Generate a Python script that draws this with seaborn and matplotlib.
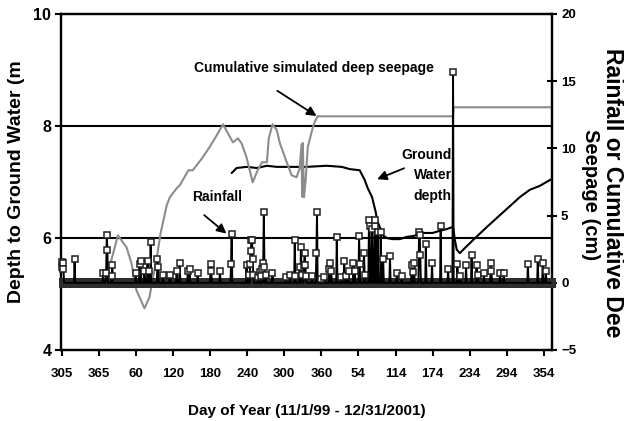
import matplotlib
matplotlib.use("Agg")
import matplotlib.pyplot as plt
import numpy as np
import seaborn as sns

# day index 0 = 11/1/1999, last = 12/31/2001
n_days = 792
tick_days = [0, 60, 120, 180, 240, 300, 360, 420, 480, 540, 600, 660, 720, 780]
tick_labels = ["305", "365", "60", "120", "180", "240", "300", "360",
               "54", "114", "174", "234", "294", "354"]

# groundwater depth (m), left axis
gw_day = [275, 283, 299, 316, 332, 348, 369, 385, 396, 429, 453, 466, 482, 490,
          495, 502, 508, 510, 515, 519, 526, 534, 547, 558, 571, 579, 592, 600,
          612, 623, 633, 636, 639, 644, 652, 665, 688, 714, 741, 757, 773, 792]
gw_depth = [7.16, 7.25, 7.27, 7.25, 7.29, 7.27, 7.27, 7.27, 7.27, 7.29, 7.27, 7.23,
            7.21, 7.04, 6.89, 6.73, 6.46, 6.32, 6.18, 6.05, 6.00, 5.98, 5.98, 6.02,
            6.04, 6.09, 6.09, 6.09, 6.13, 6.16, 6.20, 5.96, 5.79, 5.73, 5.82, 5.96,
            6.20, 6.46, 6.73, 6.86, 6.93, 7.05]

# cumulative simulated deep seepage (cm), right axis
seep_day = [70, 74, 91, 105, 113, 121, 134, 142, 147, 154, 160, 170, 175, 186,
            191, 205, 212, 227, 239, 248, 261, 269, 277, 285, 291, 299, 309, 317,
            324, 332, 335, 341, 348, 353, 364, 372, 380, 385, 388, 389, 390, 392,
            395, 398, 405, 409, 414, 633, 634, 792]
seep_cm = [0.0, 0.56, 3.53, 2.64, 1.45, -0.56, -1.90, -1.08, 0.19, 1.90, 3.68,
           5.77, 6.36, 7.03, 7.25, 8.37, 8.37, 9.26, 10.08, 10.75, 11.79, 11.12,
           10.45, 10.75, 10.38, 9.34, 7.48, 8.37, 8.97, 8.97, 10.75, 11.79, 11.35,
           10.38, 8.97, 8.00, 7.85, 8.52, 10.3, 6.4, 10.4, 6.36, 7.85, 10.08,
           11.35, 11.94, 12.39, 12.39, 13.06, 13.06]

# daily rainfall events (cm); all other days are zero
rain_day = [0, 1, 2, 3, 21, 67, 72, 73, 74, 81, 82, 120, 126, 128, 134, 139, 141,
            144, 155, 156, 164, 175, 186, 191, 204, 207, 220, 241, 242, 256, 274,
            275, 299, 303, 305, 306, 307, 308, 309, 310, 318, 320, 322, 324, 326,
            327, 328, 330, 341, 363, 369, 377, 378, 385, 387, 388, 392, 393, 394,
            395, 405, 412, 413, 420, 425, 433, 434, 436, 445, 452, 457, 460, 464,
            472, 474, 481, 482, 489, 490, 497, 498, 502, 506, 507, 511, 516, 520,
            531, 542, 550, 566, 568, 570, 578, 579, 580, 589, 599, 613, 625, 633,
            640, 645, 654, 663, 671, 673, 683, 694, 695, 709, 715, 754, 770, 778,
            783]
rain_cm = [1.55, 1.2, 1.45, 1.0, 1.75, 0.7, 0.7, 3.55, 2.45, 0.5, 1.3, 0.7, 1.4,
           1.6, 0.9, 1.65, 0.9, 3.0, 1.75, 1.15, 0.55, 0.6, 0.9, 1.5, 0.9, 1.05,
           0.7, 1.4, 0.9, 0.9, 1.4, 3.65, 1.3, 0.6, 1.4, 2.4, 3.2, 3.15, 1.8, 0.6,
           0.4, 0.8, 0.5, 1.0, 1.5, 5.3, 1.2, 0.6, 0.7, 0.4, 0.55, 3.2, 0.5, 1.2,
           2.65, 0.6, 1.3, 2.25, 1.3, 0.5, 0.5, 2.2, 5.25, 0.3, 0.4, 1.05, 1.45,
           0.9, 3.4, 0.4, 1.65, 0.5, 0.9, 1.45, 0.9, 3.5, 1.4, 2.25, 0.6, 4.65,
           4.2, 4.0, 4.2, 4.65, 3.8, 3.75, 1.8, 2.0, 0.7, 0.5, 1.3, 0.8, 1.45,
           3.75, 3.55, 2.05, 2.85, 1.45, 4.2, 1.0, 15.7, 1.4, 0.5, 1.3, 2.05, 1.3,
           0.6, 0.7, 1.5, 0.9, 0.7, 0.7, 1.4, 1.75, 1.45, 0.85]

days = np.arange(n_days)
rain = np.zeros(n_days)
rain[rain_day] = rain_cm
dry_days = days[rain == 0]

sns.set_style("white")
plt.rcParams["font.family"] = ["Liberation Sans", "DejaVu Sans"]
plt.rcParams["font.weight"] = "bold"
plt.rcParams["text.color"] = "black"
plt.rcParams["axes.labelcolor"] = "black"

fig = plt.figure(figsize=(6.24, 4.21), dpi=100)
ax = fig.add_axes([61 / 624, 71 / 421, 491 / 624, 336 / 421])
ax2 = ax.twinx()

sns.lineplot(x=gw_day, y=gw_depth, ax=ax, color="black", linewidth=1.5)
sns.lineplot(x=seep_day, y=seep_cm, ax=ax2, color="#8c8c8c", linewidth=1.5)
# dry-day markers overlap into one band on the zero line
sns.scatterplot(x=dry_days, y=np.zeros(len(dry_days)), ax=ax2, marker="s", s=46,
                color="#2e2e2e", linewidth=0, clip_on=False, zorder=3)
sns.lineplot(x=days, y=rain, ax=ax2, color="black", linewidth=1.4, marker="s",
             markevery=list(rain_day), markersize=4.8, markerfacecolor="white",
             markeredgecolor="#202020", markeredgewidth=1.1, clip_on=False,
             zorder=4)

ax.set_xlim(-1, 793)
ax.set_ylim(4, 10)
ax.set_yticks([4, 6, 8, 10])
ax2.set_ylim(-5, 20)
ax2.set_yticks([-5, 0, 5, 10, 15, 20])
ax.set_xticks(tick_days)
ax.set_xticklabels(tick_labels)

ax.grid(False)
ax2.grid(False)
for y in [6, 8]:
    ax.axhline(y, color="black", linewidth=1.5, zorder=0)

for a in (ax, ax2):
    for s in a.spines.values():
        s.set_color("black")
        s.set_linewidth(1.6)

ax.tick_params(axis="x", direction="out", length=4, width=1.5, pad=9,
               labelsize=9.5, colors="black", bottom=True)
ax.tick_params(axis="y", direction="out", length=4, width=1.5, pad=3,
               labelsize=11.5, colors="black", left=True)
ax2.tick_params(axis="y", direction="inout", length=7, width=1.5, pad=3,
                labelsize=9.5, colors="black", right=True)

ax.set_xlabel("Day of Year (11/1/99 - 12/31/2001)", fontsize=11, fontweight="bold",
              labelpad=17)
ax.set_ylabel("Depth to Ground Water (m", fontsize=14, fontweight="bold", labelpad=6)
ax2.set_ylabel("")

fig.text(0.982, 0.543, "Rainfall or Cumulative Dee", rotation=270, fontsize=16.5,
         fontweight="bold", ha="center", va="center")
fig.text(0.947, 0.537, "Seepage (cm)", rotation=270, fontsize=14.5,
         fontweight="bold", ha="center", va="center")

arrow = dict(arrowstyle="-|>", color="black", lw=1.3, mutation_scale=14)
ax2.text(408, 15.96, "Cumulative simulated deep seepage", fontsize=10,
         fontweight="bold", ha="center", va="center", zorder=1)
ax2.annotate("", xy=(416, 12.3), xytext=(345, 14.4), arrowprops=arrow)
ax2.text(252, 6.36, "Rainfall", fontsize=10, fontweight="bold",
         ha="center", va="center", zorder=1)
ax2.annotate("", xy=(270, 3.53), xytext=(227, 5.17), arrowprops=arrow)
ax2.text(631, 8.0, "Ground\nWater\ndepth", fontsize=10, fontweight="bold",
         ha="right", va="center", linespacing=1.6, zorder=1)
ax2.annotate("", xy=(506, 7.63), xytext=(558, 8.6), arrowprops=arrow)

fig.savefig("out.png", dpi=100)
